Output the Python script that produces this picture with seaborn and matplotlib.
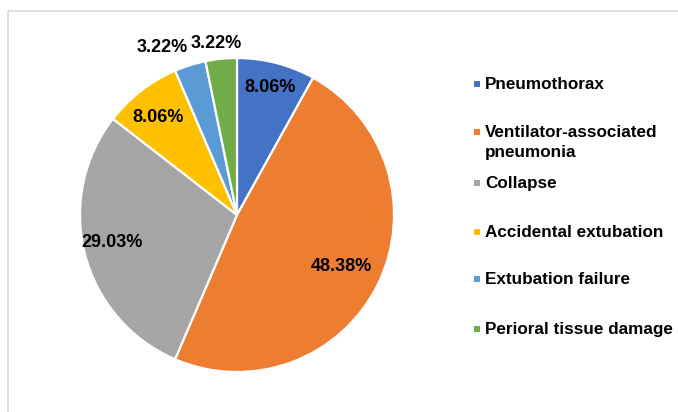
import matplotlib
matplotlib.use("Agg")
import matplotlib.pyplot as plt
import seaborn as sns
from matplotlib.patches import Rectangle
import numpy as np

categories = ["Pneumothorax", "Ventilator-associated\npneumonia", "Collapse",
              "Accidental extubation", "Extubation failure", "Perioral tissue damage"]
values = [8.06, 48.38, 29.03, 8.06, 3.22, 3.22]
pct_labels = ["8.06%", "48.38%", "29.03%", "8.06%", "3.22%", "3.22%"]
colors = ["#4472C4", "#ED7D31", "#A5A5A5", "#FFC000", "#5B9BD5", "#70AD47"]

sns.set_theme(style="white")
plt.rcParams['font.family'] = ['Liberation Sans', 'DejaVu Sans']

W, H = 678, 412
fig = plt.figure(figsize=(W / 100, H / 100), dpi=100)
fig.patch.set_facecolor("white")

def fx(x):
    return x / W

def fy(y):
    return 1 - y / H

# chart-area border (partially visible)
fig.patches.append(Rectangle((fx(8), fy(420)), fx(700), 420 / H - 11 / H,
                             transform=fig.transFigure, fill=False,
                             edgecolor="#D9D9D9", linewidth=1.2))

cx, cy, r = 237, 215, 157
ax = fig.add_axes([fx(cx - r), fy(cy + r), 2 * r / W, 2 * r / H])
wedges, _ = ax.pie(values, colors=colors, startangle=90, counterclock=False,
                   wedgeprops=dict(edgecolor="white", linewidth=1.6))
ax.set_xlim(-1, 1)
ax.set_ylim(-1, 1)
ax.set_aspect("equal")
ax.axis("off")

# label placement (distance from centre, angular offset in degrees)
label_dist = [0.84, 0.74, 0.815, 0.80, 1.17, 1.10]
label_dang = [0.0, 0.0, -2.0, 1.5, 6.5, 1.0]
for w, lab, d, da in zip(wedges, pct_labels, label_dist, label_dang):
    th = np.deg2rad((w.theta1 + w.theta2) / 2 + da)
    ax.text(d * np.cos(th), d * np.sin(th), lab, ha="center", va="center",
            fontsize=13, fontweight="bold", color="#000000")

# legend
baselines = [[89], [137, 156.5], [188], [237], [284], [334]]
for lab, col, bl in zip(categories, colors, baselines):
    lines = lab.split("\n")
    for line, b in zip(lines, bl):
        fig.text(fx(485), fy(b), line, ha="left", va="baseline",
                 fontsize=12.3, fontweight="bold", color="#000000")
    fig.patches.append(Rectangle((fx(474), fy(bl[0] - 2.5)), 5.5 / W, 5.5 / H,
                                 transform=fig.transFigure, facecolor=col,
                                 edgecolor="none"))

fig.savefig("out.png", dpi=100, facecolor="white")
